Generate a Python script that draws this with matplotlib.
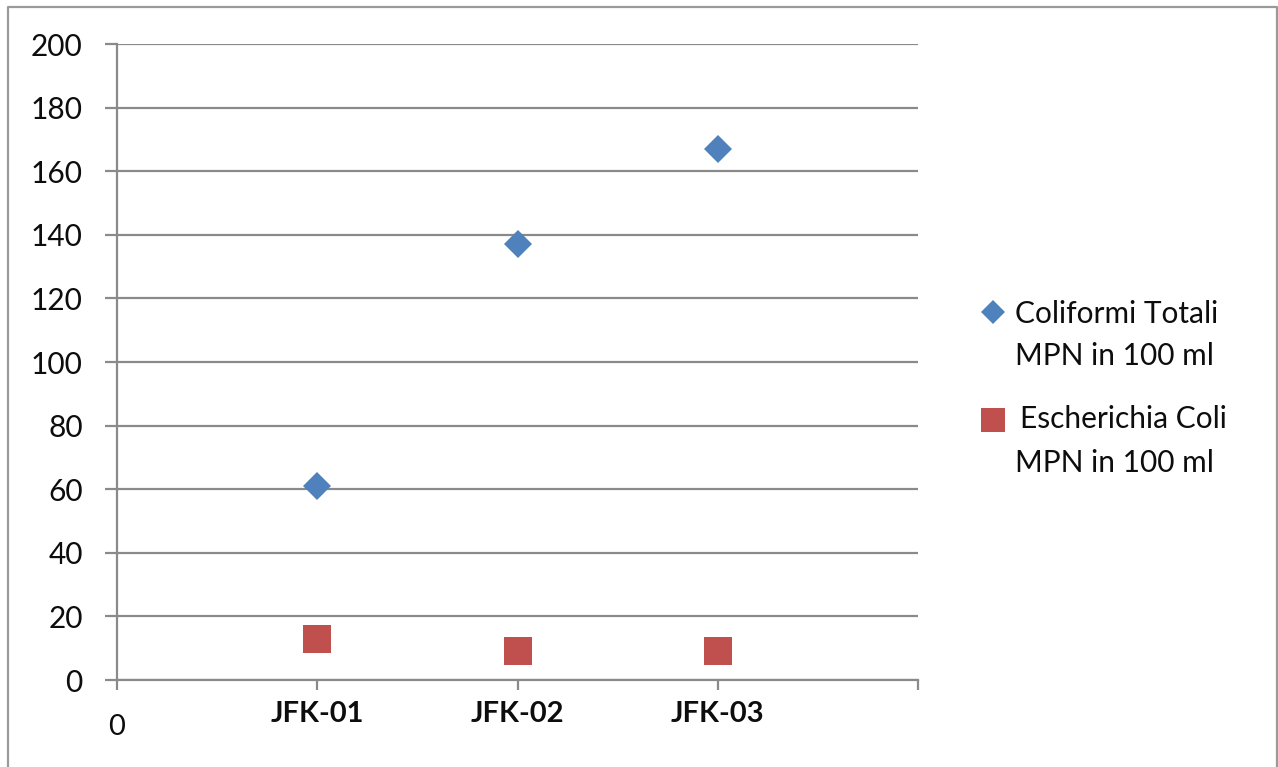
import matplotlib
matplotlib.use("Agg")
import matplotlib.pyplot as plt
import matplotlib.transforms as mtransforms
from matplotlib.lines import Line2D

# ---- data ----
x_positions = [1, 2, 3]
x_tick_values = [0, 1, 2, 3, 4]
x_tick_labels = ["0", "JFK-01", "JFK-02", "JFK-03", ""]
coliformi_totali = [61, 137, 167]
escherichia_coli = [13, 9, 9]
series_labels = [["Coliformi Totali", "MPN in 100 ml"],
                 ["Escherichia Coli", "MPN in 100 ml"]]
y_ticks = list(range(0, 201, 20))

BLUE = "#4F81BD"
RED = "#C0504D"
GRID = "#8A8A8A"
TXT = "#0d0d0d"
FONT = "Lato"

plt.rcParams["font.family"] = [FONT, "DejaVu Sans"]

W, H = 1278, 767
fig = plt.figure(figsize=(W / 100, H / 100), dpi=100)
ax = fig.add_axes([117 / W, 1 - 680 / H, (918 - 117) / W, (680 - 44) / H])

ax.set_xlim(0, 4)
ax.set_ylim(0, 200)

ax.plot(x_positions, coliformi_totali, linestyle="none", marker="D",
        markersize=14.3, color=BLUE, markeredgewidth=0, clip_on=False, zorder=5)
ax.plot(x_positions, escherichia_coli, linestyle="none", marker="s",
        markersize=20.8, color=RED, markeredgewidth=0, clip_on=False, zorder=5)

for s in ["top", "right"]:
    ax.spines[s].set_visible(False)
for s in ["left", "bottom"]:
    ax.spines[s].set_color(GRID)
    ax.spines[s].set_linewidth(1.6)

ax.set_yticks(y_ticks)
ax.set_yticklabels([str(v) for v in y_ticks])
ax.yaxis.grid(True, color=GRID, linewidth=1.6)
ax.set_axisbelow(True)
ax.tick_params(axis="y", length=8.6, width=1.6, color=GRID, pad=16,
               labelsize=21.5, labelcolor=TXT)

ax.set_xticks(x_tick_values)
ax.set_xticklabels(x_tick_labels)
ax.tick_params(axis="x", length=7.2, width=1.6, color=GRID, pad=8,
               labelsize=21, labelcolor=TXT)
for i, lab in enumerate(ax.get_xticklabels()):
    if i == 0:
        lab.set_fontweight("normal")
        lab.set_transform(lab.get_transform() +
                          mtransforms.ScaledTranslation(0, -13 / 100, fig.dpi_scale_trans))
    else:
        lab.set_fontweight("bold")

# ---- legend (manual, marker aligned with first line) ----
leg_fs = 21.5
fig.add_artist(Line2D([993 / W], [1 - 312 / H], marker="D", markersize=12,
                      color=BLUE, markeredgewidth=0, linestyle="none"))
fig.add_artist(Line2D([993 / W], [1 - 420 / H], marker="s", markersize=17,
                      color=RED, markeredgewidth=0, linestyle="none"))
fig.text(1015 / W, 1 - 323 / H, series_labels[0][0], fontsize=leg_fs, color=TXT,
         va="baseline", ha="left")
fig.text(1015 / W, 1 - 365 / H, series_labels[0][1], fontsize=leg_fs, color=TXT,
         va="baseline", ha="left")
fig.text(1020 / W, 1 - 428 / H, series_labels[1][0], fontsize=leg_fs, color=TXT,
         va="baseline", ha="left")
fig.text(1015 / W, 1 - 472 / H, series_labels[1][1], fontsize=leg_fs, color=TXT,
         va="baseline", ha="left")

# ---- outer border ----
bx0, by0, bx1 = 8 / W, 1 - 7 / H, 1276.5 / W
fig.add_artist(Line2D([bx0, bx0, bx1, bx1], [0, by0, by0, 0],
                      color="#9a9a9a", linewidth=1.6))

fig.savefig("out.png", dpi=100)
